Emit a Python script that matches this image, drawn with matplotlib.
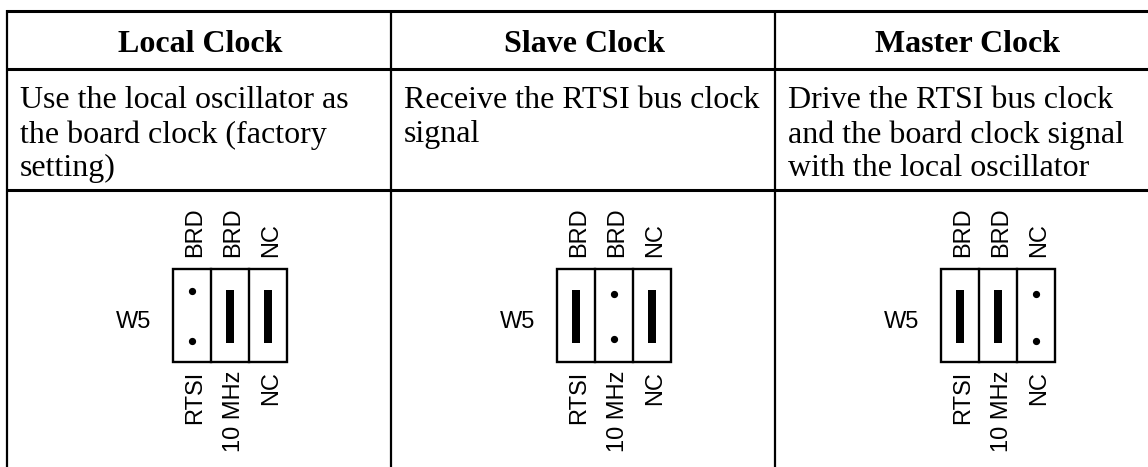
import matplotlib
matplotlib.use('Agg')
import matplotlib.pyplot as plt
from matplotlib.patches import Rectangle

headers = ['Local Clock', 'Slave Clock', 'Master Clock']
descriptions = ['Use the local oscillator as\nthe board clock (factory\nsetting)',
                'Receive the RTSI bus clock\nsignal',
                'Drive the RTSI bus clock\nand the board clock signal\nwith the local oscillator']
top_labels = ['BRD', 'BRD', 'NC']
bottom_labels = ['RTSI', '10 MHz', 'NC']
# which pin pair of W5 has the jumper on it, per column
jumpered = [[False, True, True], [True, False, True], [True, True, False]]

col_edges = [7, 391, 775]
header_x = [200, 584.5, 967.5]
text_x = [20, 404, 788]
box_x = [173, 557, 941]
slot_w = [38, 38, 38]
dot_y = [[291, 341], [294, 339], [294, 341]]

fig = plt.figure(figsize=(11.48, 4.67), dpi=100)
ax = fig.add_axes([0, 0, 1, 1])
ax.set_xlim(0, 1148)
ax.set_ylim(467, 0)
ax.axis('off')

serif = 'Liberation Serif'
sans = 'Liberation Sans'

# table rules, the table runs off the right edge
for y in [11, 69, 189.5]:
    ax.plot([col_edges[0] - 1, 1148], [y, y], color='k', lw=2.2, solid_capstyle='butt')
for x in col_edges:
    ax.plot([x, x], [10, 467], color='k', lw=1.6, solid_capstyle='butt')

for i in range(3):
    ax.text(header_x[i], 44.5, headers[i], family=serif, weight='bold',
            fontsize=23, ha='center', va='center')
    ax.text(text_x[i], 86.5, descriptions[i], family=serif, fontsize=23, ha='left', va='top', linespacing=1.2)

    x0 = box_x[i]
    ax.text(x0 - 39, 322, 'W5', family=sans, fontsize=17, ha='center', va='center')
    ax.add_patch(Rectangle((x0, 269), sum(slot_w), 93, fill=False, ec='k', lw=1.7))
    x = x0
    for j in range(3):
        if j > 0:
            ax.plot([x, x], [269, 362], color='k', lw=1.7)
        mid = x + slot_w[j] / 2
        if jumpered[i][j]:
            ax.add_patch(Rectangle((mid - 4, 290), 8, 53, fc='k', ec='none'))
        else:
            ax.plot([mid, mid], dot_y[i], 'o', color='k', ms=4.2, ls='none')
        ax.text(mid + 3.5, 257, top_labels[j], family=sans, fontsize=17, rotation=90,
                ha='center', va='bottom')
        ax.text(mid + 3.5, 371, bottom_labels[j], family=sans, fontsize=17, rotation=90,
                ha='center', va='top')
        x += slot_w[j]

fig.savefig('out.png', dpi=100)
